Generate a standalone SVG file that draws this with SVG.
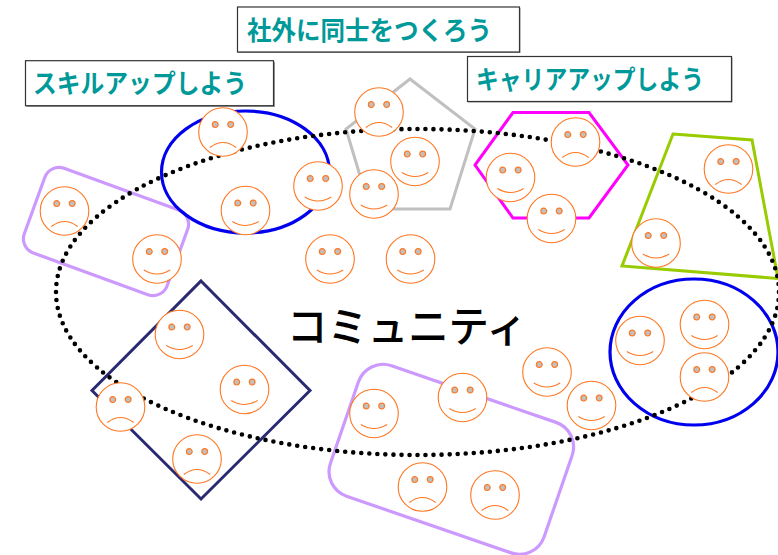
<svg xmlns="http://www.w3.org/2000/svg" xmlns:xlink="http://www.w3.org/1999/xlink" width="778" height="555" viewBox="0 0 778 555">
<style>
.g{fill:none;stroke-width:3;stroke-linejoin:miter}
.lav{stroke:#cc99ff;stroke-width:3.2}
.blue{stroke:#0000ee;stroke-width:3.2}
.box{fill:#fff;stroke:#333;stroke-width:1.2}
.sh{fill:#999}
.lab{font-family:"Noto Sans CJK JP","Noto Sans",sans-serif;font-weight:700;font-size:26px;fill:#009999}
.f{fill:#fff;stroke:#ff7722;stroke-width:1.1}
.e{fill:#c0c0c0;stroke:#ff7722;stroke-width:1.2}
.m{fill:none;stroke:#ff7722;stroke-width:1.1}
</style>
<defs>
<g id="smile"><circle class="f" r="24.3"/><circle class="e" cx="-7.7" cy="-7.4" r="2.9"/><circle class="e" cx="7.7" cy="-7.4" r="2.9"/><path class="m" d="M-13.2 11Q0 19 13.2 11"/></g>
<g id="frown"><circle class="f" r="24.3"/><circle class="e" cx="-7.7" cy="-7.4" r="2.9"/><circle class="e" cx="7.7" cy="-7.4" r="2.9"/><path class="m" d="M-13.2 15.5Q0 5.5 13.2 15.5"/></g>
</defs>
<rect width="778" height="555" fill="#fff"/>
<g id="label-skill"><rect class="sh" x="26.5" y="62" width="248.500" height="45"/><rect class="box" x="25.500" y="60.700" width="248" height="45"/><text class="lab" x="33" y="93" textLength="214" lengthAdjust="spacingAndGlyphs">スキルアップしよう</text></g>
<g id="label-peers"><rect class="sh" x="238" y="8" width="282.500" height="45"/><rect class="box" x="237.500" y="7" width="282" height="45"/><text class="lab" x="247" y="39.500" textLength="245" lengthAdjust="spacingAndGlyphs">社外に同士をつくろう</text></g>
<g id="label-career"><rect class="sh" x="468" y="57.500" width="264.500" height="45"/><rect class="box" x="467.500" y="56.500" width="264" height="45"/><text class="lab" x="476" y="89" textLength="228" lengthAdjust="spacingAndGlyphs">キャリアアップしよう</text></g>
<g id="groups">
<rect id="group-lav-left" class="g lav" x="-76" y="-45" width="152" height="90" rx="15" transform="translate(106 231.500) rotate(20)"/>
<ellipse id="group-blue-left" class="g blue" cx="245.500" cy="172" rx="84" ry="61"/>
<polygon id="group-pentagon" class="g" stroke="#c0c0c0" points="410,79 475,129 450,209 370,209 346,129"/>
<polygon id="group-hexagon" class="g" stroke="#ff00ff" points="513,112.500 589,112.500 628,165 589,218 513,218 475,165"/>
<polygon id="group-trapezoid" class="g" stroke="#99cc00" points="673,134 752,140 778,278.500 622,266"/>
<ellipse id="group-blue-right" class="g blue" cx="694" cy="352" rx="84" ry="73"/>
<polygon id="group-diamond" class="g" stroke="#2a2a72" points="201,281 310,390.500 201,499 92,390.500"/>
<rect id="group-lav-bottom" class="g lav" x="-113" y="-69" width="226" height="138" rx="26" transform="translate(451.300 459.300) rotate(19)"/>
</g>
<g id="connectors"><ellipse id="community-boundary" cx="417.500" cy="292" rx="361.500" ry="163" fill="none" stroke="#000" stroke-width="4.600" stroke-linecap="round" stroke-dasharray="0 8.05"/></g>
<text id="community" x="287" y="342" textLength="240" lengthAdjust="spacingAndGlyphs" font-family="'Noto Sans CJK JP','Noto Sans',sans-serif" font-size="42" font-weight="500" fill="#000">コミュニティ</text>
<g id="f1"><use href="#frown" x="223" y="132"/></g>
<g id="f2"><use href="#frown" x="64.500" y="211"/></g>
<g id="f3"><use href="#frown" x="379" y="112"/></g>
<g id="f4"><use href="#frown" x="575.500" y="142"/></g>
<g id="f5"><use href="#frown" x="728.500" y="169"/></g>
<g id="f6"><use href="#frown" x="704.500" y="377"/></g>
<g id="f7"><use href="#frown" x="120.500" y="407"/></g>
<g id="f8"><use href="#frown" x="197" y="459"/></g>
<g id="f9"><use href="#frown" x="422.500" y="487"/></g>
<g id="f10"><use href="#frown" x="495" y="495"/></g>
<g id="s1"><use href="#smile" x="245.500" y="210.500"/></g>
<g id="s2"><use href="#smile" x="318" y="186"/></g>
<g id="s3"><use href="#smile" x="415" y="161.500"/></g>
<g id="s4"><use href="#smile" x="374" y="194"/></g>
<g id="s5"><use href="#smile" x="157" y="259"/></g>
<g id="s6"><use href="#smile" x="330" y="259"/></g>
<g id="s7"><use href="#smile" x="410.500" y="259"/></g>
<g id="s8"><use href="#smile" x="510.500" y="177.500"/></g>
<g id="s9"><use href="#smile" x="551.500" y="218.500"/></g>
<g id="s10"><use href="#smile" x="656" y="243"/></g>
<g id="s11"><use href="#smile" x="640" y="340.500"/></g>
<g id="s12"><use href="#smile" x="704.500" y="324.500"/></g>
<g id="s13"><use href="#smile" x="179.500" y="334.500"/></g>
<g id="s14"><use href="#smile" x="244.500" y="389.500"/></g>
<g id="s15"><use href="#smile" x="374" y="413.500"/></g>
<g id="s16"><use href="#smile" x="462.500" y="397.500"/></g>
<g id="s17"><use href="#smile" x="547" y="372"/></g>
<g id="s18"><use href="#smile" x="591.500" y="405.500"/></g>
</svg>
